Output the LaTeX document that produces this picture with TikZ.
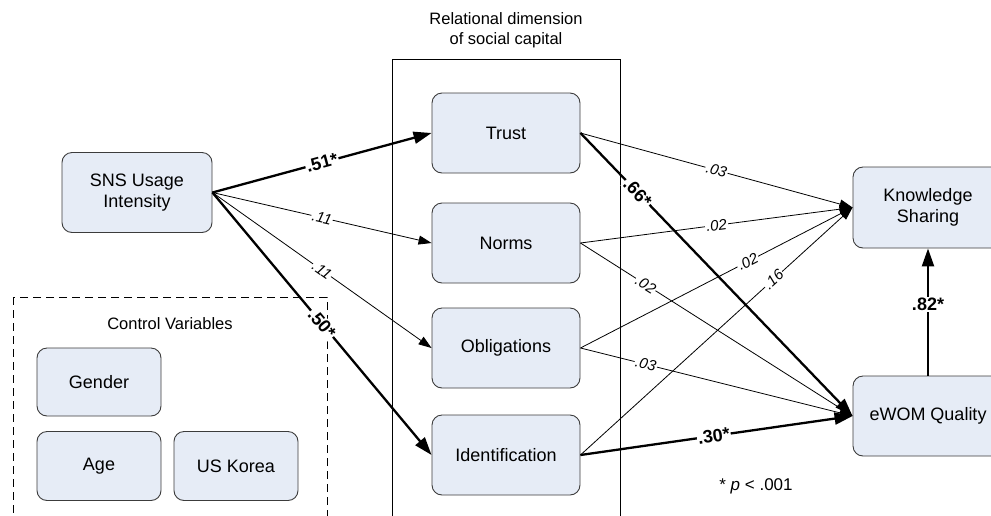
\documentclass[tikz,border=0pt]{standalone}
\usepackage{fontspec}
\setmainfont{Liberation Sans}
\usetikzlibrary{arrows.meta}
\definecolor{boxfill}{RGB}{230,236,246}
\definecolor{boxline}{RGB}{60,60,60}
\begin{document}
\begin{tikzpicture}[x=1pt,y=-1pt,
  box/.style={draw=boxline, line width=0.9pt, fill=boxfill, rounded corners=10pt,
    font=\fontsize{18}{20.5}\selectfont, align=center, inner sep=0pt},
  thinarr/.style={line width=0.8pt, -{Triangle[length=13pt,width=9pt]}},
  thickarr/.style={line width=2.3pt, -{Triangle[length=18pt,width=12pt]}},
  lab/.style={fill=white, inner sep=1pt, font=\fontsize{15}{17}\selectfont\itshape, sloped},
  blab/.style={fill=white, inner sep=1pt, font=\fontsize{18}{20}\selectfont\bfseries, sloped},
  title/.style={font=\fontsize{16.5}{19.5}\selectfont, align=center, inner sep=0pt},
]
\useasboundingbox (0,0) rectangle (991,515);
\clip (0,0) rectangle (991,515);

% frames
\draw[line width=0.9pt] (392,59) rectangle (620,530);
\draw[line width=0.9pt, dash pattern=on 8pt off 5pt] (13,297) rectangle (327,530);

\node[title] (reltitle) at (506,30) {Relational dimension\\of social capital};
\node[title] (ctitle) at (170,324) {Control Variables};

% boxes
\node[box, minimum width=150pt, minimum height=80pt] (sns) at (137,192.5) {SNS Usage\\Intensity};
\node[box, minimum width=148pt, minimum height=80pt] (trust) at (506,133) {Trust};
\node[box, minimum width=148pt, minimum height=80pt] (norms) at (506,243) {Norms};
\node[box, minimum width=148pt, minimum height=80pt] (oblig) at (506,348) {Obligations};
\node[box, minimum width=148pt, minimum height=80pt] (ident) at (506,455) {Identification};
\node[box, minimum width=150pt, minimum height=81pt] (ks) at (928,207.5) {Knowledge\\Sharing};
\node[box, minimum width=150pt, minimum height=80pt] (ewom) at (928,416) {eWOM Quality};
\node[box, minimum width=124pt, minimum height=68pt] (gender) at (99,382) {Gender};
\node[box, minimum width=124pt, minimum height=69pt] (age) at (99,466) {Age};
\node[box, minimum width=124pt, minimum height=69pt] (usk) at (236,466) {US Korea};

% SNS paths
\draw[thickarr] (sns.east) -- node[blab, pos=0.5] {.51*} (trust.west);
\draw[thinarr] (sns.east) -- node[lab, pos=0.5] {.11} (norms.west);
\draw[thinarr] (sns.east) -- node[lab, pos=0.5] {.11} (oblig.west);
\draw[thickarr] (sns.east) -- node[blab, pos=0.5] {.50*} (ident.west);

% to Knowledge Sharing
\draw[thinarr] (trust.east) -- node[lab, pos=0.5] {.03} (ks.west);
\draw[thinarr] (norms.east) -- node[lab, pos=0.5] {.02} (ks.west);
\draw[thinarr] (oblig.east) -- node[lab, pos=0.615] {.02} (ks.west);
\draw[thinarr] (ident.east) -- node[lab, pos=0.71] {.16} (ks.west);

% to eWOM
\draw[thinarr] (norms.east) -- node[lab, pos=0.24] {.02} (ewom.west);
\draw[thinarr] (oblig.east) -- node[lab, pos=0.24] {.03} (ewom.west);
\draw[thickarr] (trust.east) -- node[blab, pos=0.21] {.66*} (ewom.west);
\draw[thickarr] (ident.east) -- node[blab, pos=0.49] {.30*} (ewom.west);

\draw[thickarr] (ewom.north) -- node[blab, pos=0.56, sloped=false] {.82*} (ks.south);

\node[font=\fontsize{17}{19}\selectfont, inner sep=0pt] (pnote) at (756,486) {* \textit{p} < .001};
\end{tikzpicture}
\end{document}
